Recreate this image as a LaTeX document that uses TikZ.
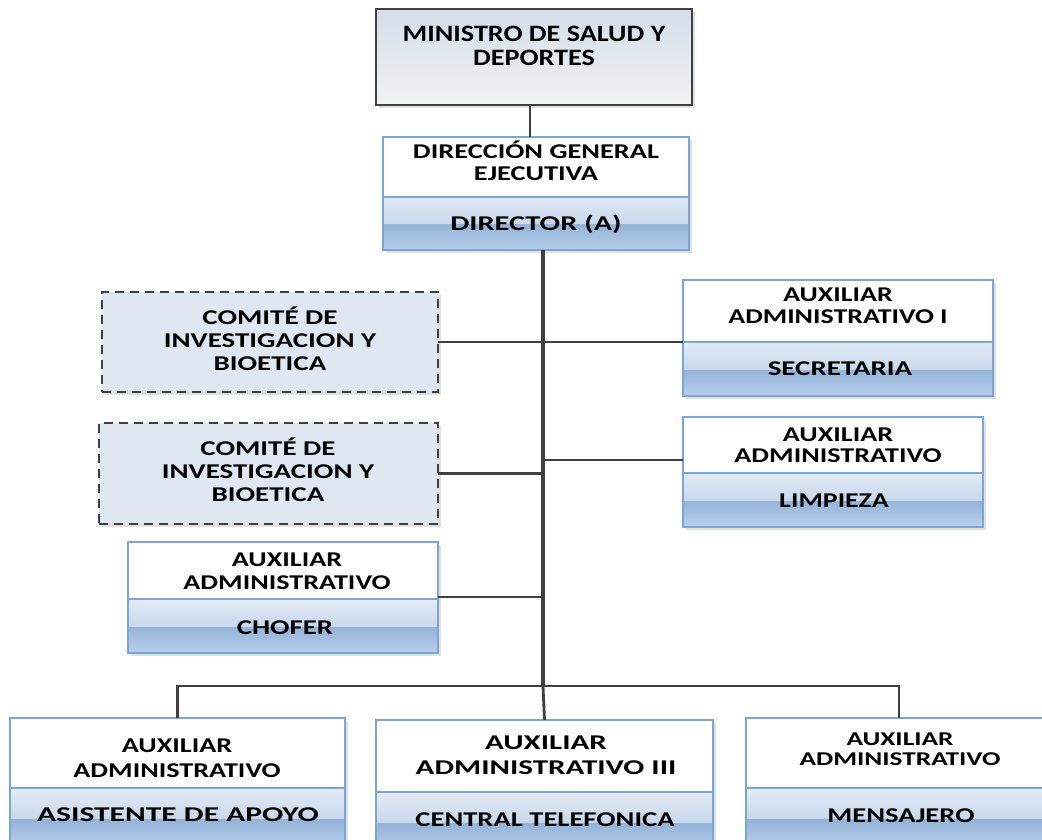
\documentclass[tikz,border=0pt]{standalone}
\usepackage{fontspec}
\setmainfont{Carlito}
\usetikzlibrary{shadows}

\definecolor{linegray}{HTML}{3F3F3F}
\definecolor{boxblue}{HTML}{7AA5D4}
\definecolor{comfill}{HTML}{DFE8F2}
\definecolor{headtop}{HTML}{D3DEEB}
\definecolor{headbot}{HTML}{F2F2F2}
\definecolor{bandlow}{HTML}{B8CFEA}
\definecolor{banddark}{HTML}{93B3D8}
\definecolor{bandmid}{HTML}{C9D8EC}
\definecolor{bandhigh}{HTML}{E3EBF5}

% two-tone glossy fill for the lower band of each post box
\pgfdeclareverticalshading{postband}{100bp}{%
  color(0bp)=(bandlow);
  color(25bp)=(bandlow);
  color(49.5bp)=(banddark);
  color(50bp)=(bandmid);
  color(75bp)=(bandhigh);
  color(100bp)=(bandhigh)}

\tikzset{
  every node/.style={inner sep=0pt, outer sep=0pt},
  softshadow/.style={drop shadow={shadow xshift=3pt, shadow yshift=-3pt, opacity=0.12, fill=black}},
  headbox/.style={anchor=north west, draw=linegray, line width=1.8pt,
    top color=headtop, bottom color=headbot, softshadow},
  combox/.style={anchor=north west, draw=linegray, line width=1.8pt, dash pattern=on 9pt off 6pt,
    fill=comfill, softshadow},
  posttop/.style={anchor=north west, draw=boxblue, line width=1.6pt, fill=white, softshadow},
  postbot/.style={anchor=north west, draw=boxblue, line width=1.6pt, shading=postband, softshadow},
  % size, leading, horizontal stretch
  txt/.style n args={3}{align=center, text=black,
    font=\bfseries\fontsize{#1}{#2}\selectfont\addfontfeature{FakeStretch=#3}},
  conn/.style={draw=linegray, line width=2.8pt},
  trunkline/.style={draw=linegray, line width=3.8pt},
}

\begin{document}
\begin{tikzpicture}[x=1pt, y=-1pt]
\useasboundingbox (0,0) rectangle (1042,840);

% ---- Ministro ----
\node[headbox, minimum width=316pt, minimum height=96pt] (min) at (376,9) {};
\node[txt={23.5}{24}{1.2}] (minL) at (534,46) {MINISTRO DE SALUD Y\\DEPORTES};

% ---- Direccion General ----
\node[posttop, minimum width=306pt, minimum height=60pt] (dirT) at (383,137) {};
\node[postbot, minimum width=306pt, minimum height=53pt] (dirB) at (383,197) {};
\node[txt={21}{22}{1.35}] (dirL) at (536,161) {DIRECCIÓN GENERAL\\EJECUTIVA};
\node[txt={21}{22}{1.45}] (dirS) at (536,224) {DIRECTOR (A)};

% ---- Comites ----
\node[combox, minimum width=336pt, minimum height=100pt] (com1) at (102,292) {};
\node[txt={21}{23}{1.38}] (com1L) at (270,339) {COMITÉ DE\\INVESTIGACION Y\\BIOETICA};
\node[combox, minimum width=339pt, minimum height=101pt] (com2) at (99,423) {};
\node[txt={21}{23}{1.38}] (com2L) at (268,470) {COMITÉ DE\\INVESTIGACION Y\\BIOETICA};

% ---- Secretaria ----
\node[posttop, minimum width=310pt, minimum height=62pt] (secT) at (683,280) {};
\node[postbot, minimum width=310pt, minimum height=54pt] (secB) at (683,342) {};
\node[txt={21}{22}{1.33}] (secL) at (838,306) {AUXILIAR\\ADMINISTRATIVO I};
\node[txt={21}{22}{1.38}] (secS) at (840,369) {SECRETARIA};

% ---- Limpieza ----
\node[posttop, minimum width=300pt, minimum height=56pt] (limT) at (683,417) {};
\node[postbot, minimum width=300pt, minimum height=54pt] (limB) at (683,473) {};
\node[txt={21}{21}{1.34}] (limL) at (838,445) {AUXILIAR\\ADMINISTRATIVO};
\node[txt={21}{22}{1.33}] (limS) at (834,501) {LIMPIEZA};

% ---- Chofer ----
\node[posttop, minimum width=310pt, minimum height=57pt] (choT) at (128,542) {};
\node[postbot, minimum width=310pt, minimum height=54pt] (choB) at (128,599) {};
\node[txt={21}{23}{1.34}] (choL) at (287,571) {AUXILIAR\\ADMINISTRATIVO};
\node[txt={21}{22}{1.37}] (choS) at (285,628) {CHOFER};

% ---- Fila inferior ----
\node[posttop, minimum width=335pt, minimum height=70pt] (apoT) at (10,718) {};
\node[postbot, minimum width=335pt, minimum height=60pt] (apoB) at (10,788) {};
\node[txt={21}{25}{1.34}] (apoL) at (177,758) {AUXILIAR\\ADMINISTRATIVO};
\node[txt={21}{22}{1.5}] (apoS) at (178,815) {ASISTENTE DE APOYO};

\node[posttop, minimum width=337pt, minimum height=72pt] (telT) at (376,720) {};
\node[postbot, minimum width=337pt, minimum height=60pt] (telB) at (376,792) {};
\node[txt={21}{25}{1.48}] (telL) at (546,755) {AUXILIAR\\ADMINISTRATIVO III};
\node[txt={21}{22}{1.36}] (telS) at (545,820) {CENTRAL TELEFONICA};

\node[posttop, minimum width=306pt, minimum height=70pt] (menT) at (746,718) {};
\node[postbot, minimum width=306pt, minimum height=60pt] (menB) at (746,788) {};
\node[txt={19.5}{20}{1.4}] (menL) at (900,749) {AUXILIAR\\ADMINISTRATIVO};
\node[txt={21}{22}{1.36}] (menS) at (901,816) {MENSAJERO};

% ---- Conectores ----
\coordinate (bus) at (543,686);
\coordinate (limJ) at (543,460);
\draw[conn] ([xshift=-4pt]min.south) -- ([xshift=-4pt]min.south |- dirT.north);
\draw[trunkline] (dirB.south -| bus) -- (bus);
\draw[conn] (com1.east) -- (com1.east -| secT.west);
\draw[conn] (com2.east) -- (com2.east -| bus);
\draw[conn] (limJ) -- (limJ -| limT.west);
\draw[conn] ([yshift=2pt]choT.south east) -- ([yshift=2pt]choT.south east -| bus);
\draw[conn] (apoT.north) |- (bus) -| (menT.north);
\draw[conn] (bus) -- (telT.north);
\end{tikzpicture}
\end{document}
